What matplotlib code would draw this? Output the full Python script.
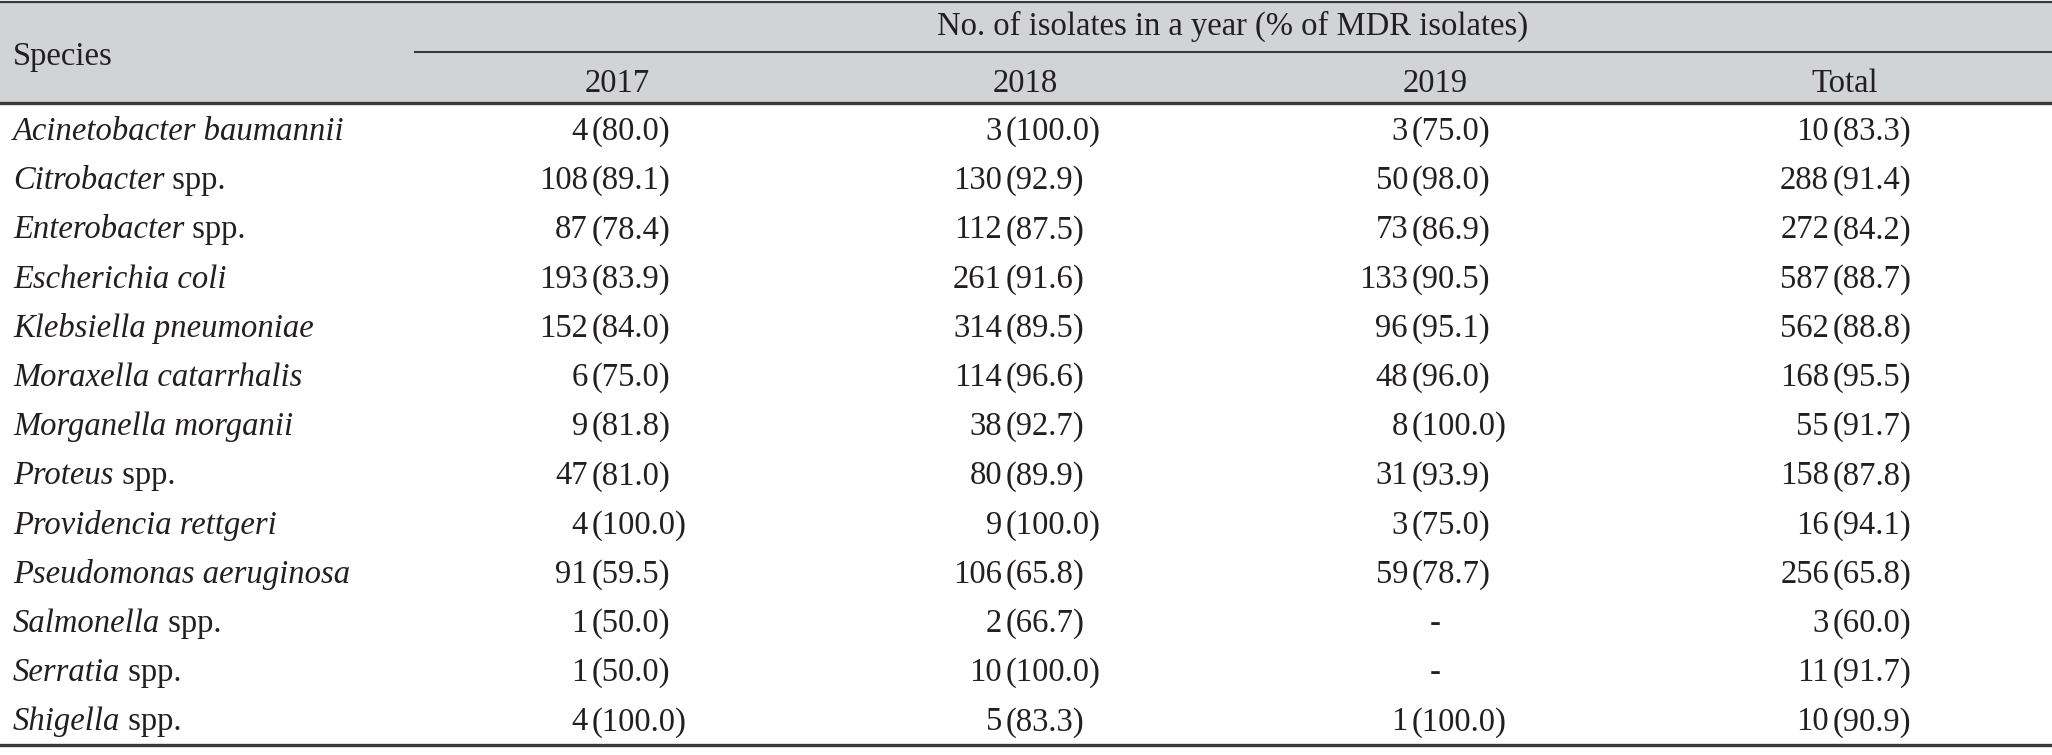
import matplotlib
matplotlib.use("Agg")
import matplotlib.pyplot as plt
import numpy as np

# table data
species_it = ["Acinetobacter baumannii", "Citrobacter", "Enterobacter", "Escherichia coli",
              "Klebsiella pneumoniae", "Moraxella catarrhalis", "Morganella morganii", "Proteus",
              "Providencia rettgeri", "Pseudomonas aeruginosa", "Salmonella", "Serratia", "Shigella"]
species_rm = ["", " spp.", " spp.", "", "", "", "", " spp.", "", "", " spp.", " spp.", " spp."]

years = ["2017", "2018", "2019", "Total"]
n_2017 = [4, 108, 87, 193, 152, 6, 9, 47, 4, 91, 1, 1, 4]
p_2017 = [80.0, 89.1, 78.4, 83.9, 84.0, 75.0, 81.8, 81.0, 100.0, 59.5, 50.0, 50.0, 100.0]
n_2018 = [3, 130, 112, 261, 314, 114, 38, 80, 9, 106, 2, 10, 5]
p_2018 = [100.0, 92.9, 87.5, 91.6, 89.5, 96.6, 92.7, 89.9, 100.0, 65.8, 66.7, 100.0, 83.3]
n_2019 = [3, 50, 73, 133, 96, 48, 8, 31, 3, 59, None, None, 1]
p_2019 = [75.0, 98.0, 86.9, 90.5, 95.1, 96.0, 100.0, 93.9, 75.0, 78.7, None, None, 100.0]
n_total = [10, 288, 272, 587, 562, 168, 55, 158, 16, 256, 3, 11, 10]
p_total = [83.3, 91.4, 84.2, 88.7, 88.8, 95.5, 91.7, 87.8, 94.1, 65.8, 60.0, 91.7, 90.9]

title = "No. of isolates in a year (% of MDR isolates)"

W, H = 2052, 755
FONT = "Liberation Serif"
FS = 23.5
TXT = "#231f20"
LINE = "#3a3a3a"

fig = plt.figure(figsize=(W / 100, H / 100), dpi=100)
ax = fig.add_axes([0, 0, 1, 1])
ax.set_xlim(0, W)
ax.set_ylim(H, 0)
ax.axis("off")

# header band
ax.axhspan(2, 103, color="#d2d3d5", lw=0, zorder=0)
ax.axhline(2, color=LINE, lw=1.6)
ax.plot([415, W], [52, 52], color=LINE, lw=1.5)
ax.axhline(103, color=LINE, lw=2.4)
ax.axhline(745, color=LINE, lw=2.4)

ax.text(13, 65, "Species", fontsize=FS, family=FONT, color=TXT, va="baseline")
ax.text(1233, 35, title, fontsize=FS, family=FONT, color=TXT, va="baseline", ha="center")

col_center = [617, 1025, 1435, 1845]
col_anchor = [593, 1007, 1413, 1834]
for c, lab in zip(col_center, years):
    ax.text(c, 92, lab, fontsize=FS, family=FONT, color=TXT, va="baseline", ha="center")

row_base = 140 + np.arange(len(species_it)) * 49.2

fig.canvas.draw()
rend = fig.canvas.get_renderer()
inv = ax.transData.inverted()
for y, it, rm in zip(row_base, species_it, species_rm):
    t = ax.text(13, y, it, fontsize=FS, family=FONT, style="italic", color=TXT, va="baseline")
    if rm:
        bb = t.get_window_extent(rend)
        x1 = inv.transform((bb.x1, 0))[0]
        ax.text(x1, y, rm, fontsize=FS, family=FONT, color=TXT, va="baseline")

cols = [(n_2017, p_2017), (n_2018, p_2018), (n_2019, p_2019), (n_total, p_total)]
for (ns, ps), a, c in zip(cols, col_anchor, col_center):
    for y, n, p in zip(row_base, ns, ps):
        if n is None:
            ax.text(c, y, "-", fontsize=FS, family=FONT, color=TXT, va="baseline", ha="center")
            continue
        ax.text(a - 5, y, str(n), fontsize=FS, family=FONT, color=TXT, va="baseline", ha="right")
        ax.text(a - 1, y, "(%.1f)" % p, fontsize=FS, family=FONT, color=TXT, va="baseline", ha="left")

fig.savefig("out.png", dpi=100)
